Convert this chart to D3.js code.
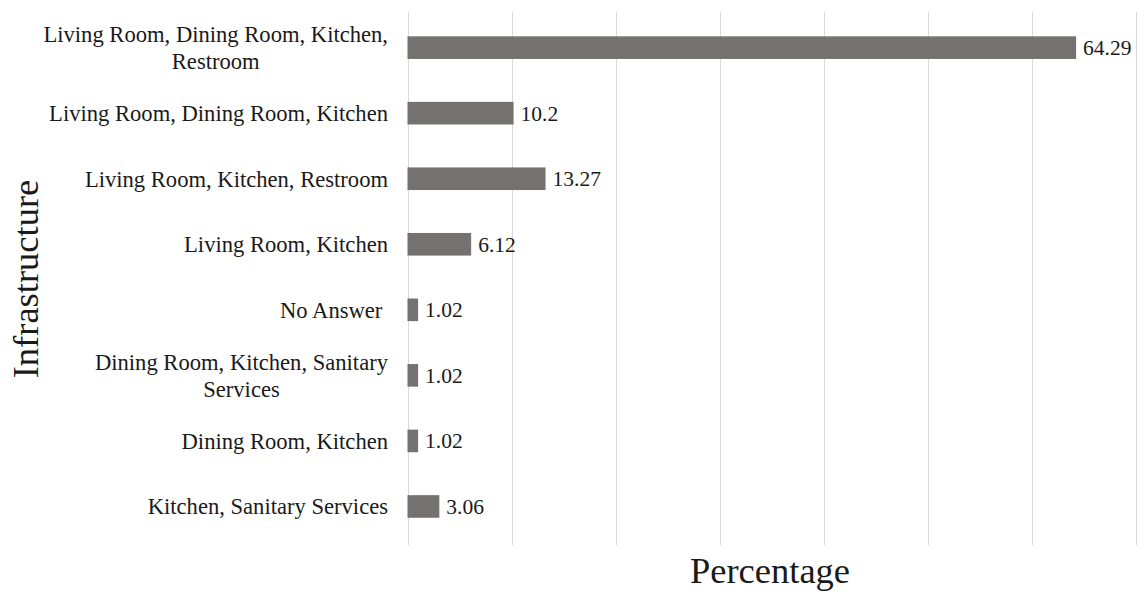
<!DOCTYPE html>
<html>
<head>
<meta charset="utf-8">
<script src="https://cdn.jsdelivr.net/npm/d3@7"></script>
<style>
  html, body { margin: 0; padding: 0; background: #fff; }
  svg { display: block; }
  text { font-family: "Liberation Serif", "Times New Roman", serif; fill: #1a1a1a; }
</style>
</head>
<body>
<svg id="chart" width="1137" height="593"></svg>
<script>
// Infrastructure categories, top to bottom
const categories = [
  "Living Room, Dining Room, Kitchen, Restroom",
  "Living Room, Dining Room, Kitchen",
  "Living Room, Kitchen, Restroom",
  "Living Room, Kitchen",
  "No Answer ",
  "Dining Room, Kitchen, Sanitary Services",
  "Dining Room, Kitchen",
  "Kitchen, Sanitary Services"
];
// Share of respondents (%)
const percentages = [64.29, 10.2, 13.27, 6.12, 1.02, 1.02, 1.02, 3.06];
const valueLabels = ["64.29", "10.2", "13.27", "6.12", "1.02", "1.02", "1.02", "3.06"];
const gridTicks = [0, 10, 20, 30, 40, 50, 60, 70];

const data = categories.map((c, i) => ({ cat: c, value: percentages[i], label: valueLabels[i] }));

const svg = d3.select("#chart");
const margin = { left: 407.5, right: 1135.5, top: 14.7, bottom: 539.4 };

const x = d3.scaleLinear().domain([0, 70]).range([margin.left, margin.right]);
const y = d3.scaleBand().domain(categories).range([margin.top, margin.bottom]).paddingInner(0.655).paddingOuter(0.33);

const labelSize = 22.6;

// Vertical gridlines
svg.append("g")
  .selectAll("line")
  .data(gridTicks)
  .join("line")
  .attr("x1", d => Math.round(x(d)) + 0.5)
  .attr("x2", d => Math.round(x(d)) + 0.5)
  .attr("y1", 12)
  .attr("y2", 545)
  .attr("stroke", "#d9d9d9")
  .attr("stroke-width", 1);

// Bars
svg.append("g")
  .selectAll("rect")
  .data(data)
  .join("rect")
  .attr("x", x(0))
  .attr("y", d => y(d.cat))
  .attr("width", d => x(d.value) - x(0))
  .attr("height", y.bandwidth())
  .attr("fill", "#767171");

// Value labels at bar ends
svg.append("g")
  .selectAll("text")
  .data(data)
  .join("text")
  .attr("x", d => x(d.value) + 7)
  .attr("y", d => y(d.cat) + y.bandwidth() / 2)
  .attr("dy", "0.35em")
  .attr("font-size", 21.5)
  .text(d => d.label);

// Category labels, wrapped and centred line-by-line, block right-aligned
const labelRight = 388;
const maxLabelWidth = 355;
const lineHeight = 27;
const catG = svg.append("g");
data.forEach(d => {
  const words = d.cat.replace(/ $/, "\u00a0").split(" ");
  const probe = catG.append("text").attr("font-size", labelSize).style("white-space", "pre");
  const lines = [];
  let cur = [];
  words.forEach(w => {
    const test = cur.concat(w).join(" ");
    probe.text(test);
    if (probe.node().getComputedTextLength() > maxLabelWidth && cur.length) {
      lines.push(cur.join(" "));
      cur = [w];
    } else {
      cur.push(w);
    }
  });
  if (cur.length) lines.push(cur.join(" "));
  const widths = lines.map(l => { probe.text(l); return probe.node().getComputedTextLength(); });
  probe.remove();
  const blockW = d3.max(widths);
  const cx = labelRight - blockW / 2;
  const cy = y(d.cat) + y.bandwidth() / 2;
  const t = catG.append("text")
    .attr("font-size", labelSize)
    .attr("text-anchor", "middle")
    .style("white-space", "pre");
  lines.forEach((l, i) => {
    t.append("tspan")
      .attr("x", cx)
      .attr("y", cy + (i - (lines.length - 1) / 2) * lineHeight)
      .attr("dy", "0.35em")
      .text(l);
  });
});

// Axis titles
svg.append("text")
  .attr("x", 770)
  .attr("y", 583)
  .attr("text-anchor", "middle")
  .attr("font-size", 36.5)
  .text("Percentage");

svg.append("text")
  .attr("transform", "translate(38,279) rotate(-90)")
  .attr("text-anchor", "middle")
  .attr("font-size", 36.5)
  .text("Infrastructure");
</script>
</body>
</html>
